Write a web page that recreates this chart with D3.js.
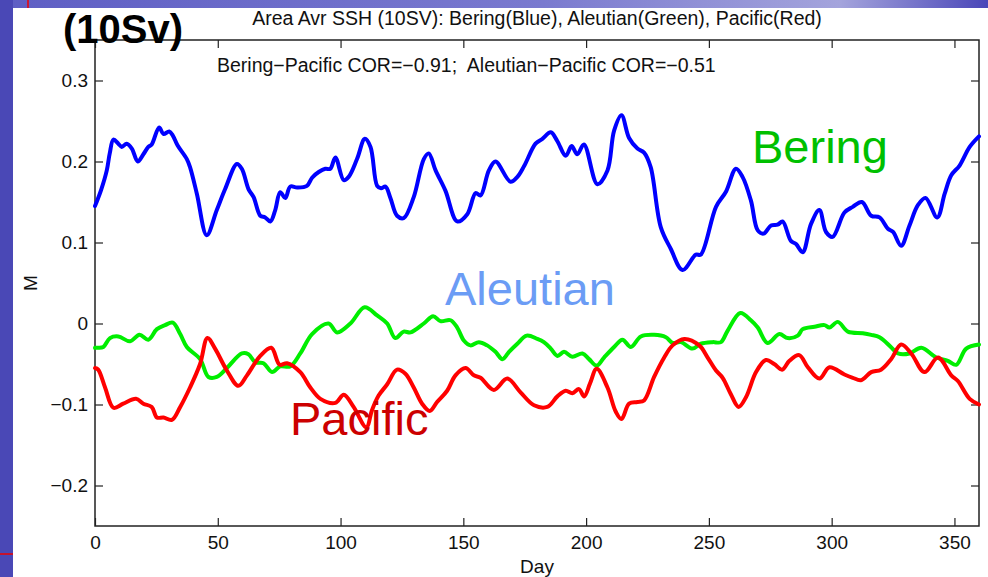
<!DOCTYPE html>
<html>
<head>
<meta charset="utf-8">
<title>Area Avr SSH (10SV)</title>
<style>
  body { margin: 0; }
  text { font-family: Arial, "Liberation Sans", sans-serif; }
</style>
</head>
<body>
<script src="https://d3js.org/d3.v7.min.js"></script>
<script>
// day, value (m)
var bering = [[0,0.145],[2.5,0.165],[4.8,0.189],[6,0.21],[7.5,0.227],[9.5,0.222],[10.9,0.218],[12.9,0.222],[15,0.216],[17.4,0.200],[19.7,0.209],[21.7,0.218],[23.1,0.221],[26.1,0.242],[27.9,0.234],[30.2,0.237],[31.7,0.232],[33.6,0.220],[37.4,0.203],[38.7,0.193],[41.5,0.160],[45.5,0.109],[49.6,0.140],[53,0.166],[57.8,0.197],[59.8,0.191],[62.5,0.166],[64.6,0.156],[67.3,0.133],[69.3,0.131],[71.4,0.126],[73.4,0.140],[75.4,0.162],[77.5,0.155],[79.5,0.169],[82.3,0.168],[86.3,0.170],[88.4,0.180],[91.1,0.187],[93.8,0.191],[95.8,0.191],[97.9,0.205],[101.3,0.177],[103.3,0.181],[106.7,0.203],[109.9,0.228],[112.2,0.218],[114.9,0.170],[116.5,0.167],[118.3,0.169],[120.3,0.155],[123,0.133],[125.7,0.130],[129.8,0.156],[133.9,0.203],[135.9,0.210],[138.7,0.189],[142.7,0.164],[147.5,0.126],[151.6,0.135],[155,0.161],[157,0.158],[160.4,0.189],[163.1,0.200],[169.2,0.175],[172,0.181],[174.7,0.194],[179.4,0.222],[182.2,0.228],[185.6,0.236],[188.3,0.225],[191.7,0.207],[194.1,0.219],[196.4,0.209],[199.1,0.221],[204.6,0.172],[208.7,0.189],[211.4,0.238],[214.4,0.257],[217.5,0.229],[220.9,0.216],[223.6,0.211],[226.3,0.193],[230.4,0.119],[234.5,0.092],[239.3,0.066],[244.7,0.085],[246.7,0.085],[252.9,0.144],[257,0.163],[261,0.191],[263.7,0.181],[267.1,0.152],[269.9,0.115],[272.3,0.111],[275.3,0.121],[278,0.122],[280,0.126],[283.4,0.102],[285.5,0.098],[288.2,0.088],[291.6,0.123],[295,0.140],[297.7,0.113],[300.4,0.107],[305.2,0.137],[308.6,0.144],[312.3,0.150],[316.1,0.133],[319.5,0.131],[322.9,0.117],[325,0.113],[328.3,0.096],[331.7,0.121],[335.1,0.146],[338.2,0.155],[343,0.131],[346,0.160],[348.7,0.183],[352.1,0.195],[356.2,0.218],[360,0.231]];

var aleutian = [[0,-0.030],[1.3,-0.030],[3.4,-0.029],[6.1,-0.018],[9.5,-0.016],[14.3,-0.022],[18.1,-0.014],[21.7,-0.020],[25.2,-0.007],[28.5,-0.002],[31.7,0.001],[34.7,-0.013],[37.4,-0.029],[42.8,-0.044],[46.2,-0.066],[49.6,-0.066],[53.7,-0.055],[59.8,-0.037],[62.5,-0.038],[65.3,-0.048],[68.6,-0.049],[72.1,-0.060],[75.4,-0.053],[79.5,-0.053],[83.6,-0.037],[88.4,-0.013],[95.1,0.000],[98.6,-0.011],[104,0.000],[109.8,0.020],[114.9,0.010],[119,0.000],[122.3,-0.018],[125.7,-0.010],[128.5,-0.011],[133.9,0.000],[137.7,0.009],[140.7,0.003],[144.8,0.004],[147.5,-0.005],[150.2,-0.021],[152.9,-0.027],[156.3,-0.023],[159.7,-0.027],[163.1,-0.035],[165.9,-0.044],[168.6,-0.035],[172,-0.025],[175.8,-0.015],[180.1,-0.019],[182.8,-0.023],[185.6,-0.031],[188.3,-0.040],[191,-0.035],[194.4,-0.041],[198.5,-0.037],[201.2,-0.044],[204.3,-0.052],[207.3,-0.042],[211.4,-0.029],[214.8,-0.020],[218.2,-0.029],[222.3,-0.016],[227.7,-0.014],[232.5,-0.017],[235.2,-0.024],[238.6,-0.023],[243.3,-0.031],[246.7,-0.025],[251.5,-0.023],[254.9,-0.023],[257.6,-0.009],[262.8,0.013],[267.1,0.004],[269.9,-0.005],[273.9,-0.024],[278.7,-0.013],[282.1,-0.018],[286.2,-0.015],[288.2,-0.007],[293,-0.004],[297.1,-0.002],[299.1,-0.005],[302.5,0.002],[306.6,-0.010],[312.7,-0.012],[316.1,-0.014],[319.5,-0.017],[324.1,-0.029],[327,-0.037],[331.7,-0.037],[336.5,-0.030],[342.6,-0.042],[347.3,-0.046],[350.7,-0.051],[354.8,-0.031],[360,-0.026]];

var pacific = [[0,-0.055],[1.3,-0.057],[4.1,-0.079],[7.5,-0.104],[11.5,-0.099],[16.7,-0.093],[19.7,-0.099],[23.1,-0.103],[25.2,-0.116],[27.9,-0.116],[31.3,-0.119],[34.7,-0.103],[38.7,-0.079],[42.8,-0.050],[45.8,-0.018],[48.9,-0.031],[53.7,-0.058],[58.4,-0.077],[61.9,-0.064],[67.3,-0.040],[71.8,-0.030],[75.2,-0.051],[78.2,-0.049],[83.6,-0.060],[87.7,-0.079],[91.8,-0.093],[97.9,-0.098],[101.3,-0.088],[105.3,-0.103],[110.5,-0.128],[112.8,-0.107],[115.5,-0.089],[119,-0.075],[123,-0.057],[126.4,-0.062],[129.8,-0.079],[133.2,-0.099],[136.3,-0.108],[139.3,-0.097],[143.4,-0.083],[146.8,-0.064],[150.9,-0.055],[154.3,-0.064],[157,-0.067],[162.4,-0.082],[167.9,-0.068],[173.3,-0.085],[178.8,-0.101],[184.2,-0.103],[188.3,-0.090],[191.7,-0.083],[194.4,-0.086],[197.1,-0.081],[199.2,-0.090],[201.6,-0.074],[204.3,-0.056],[208.7,-0.079],[212.1,-0.109],[214.4,-0.118],[217.5,-0.099],[220.9,-0.097],[223.6,-0.095],[227.7,-0.066],[231.8,-0.042],[235.2,-0.027],[240,-0.019],[246.1,-0.027],[249.5,-0.042],[252.9,-0.058],[255.6,-0.067],[258.9,-0.087],[262.1,-0.103],[265.1,-0.091],[269.2,-0.060],[273.2,-0.045],[276.6,-0.050],[279.8,-0.057],[282.8,-0.046],[286.8,-0.039],[290.3,-0.054],[295,-0.068],[299.1,-0.054],[305.2,-0.063],[308.6,-0.067],[311.9,-0.070],[316.1,-0.060],[320.1,-0.057],[324.2,-0.044],[328.3,-0.026],[332.4,-0.037],[337.8,-0.060],[343.3,-0.042],[348.7,-0.064],[351.4,-0.071],[356.2,-0.093],[360,-0.100]];

var xTicks = [0, 50, 100, 150, 200, 250, 300, 350];
var yTicks = [-0.2, -0.1, 0, 0.1, 0.2, 0.3];
var xDomain = [0, 360];
var yDomain = [-0.25, 0.35];

var size = {width: 988, height: 577};
var box = {left: 95, top: 40, right: 979, bottom: 526};

var svg = d3.select("body").append("svg")
    .attr("width", size.width)
    .attr("height", size.height);

// slide background
var defs = svg.append("defs");
var grad = defs.append("linearGradient").attr("id", "band");
grad.append("stop").attr("offset", "0%").attr("stop-color", "#5e5ec4");
grad.append("stop").attr("offset", "55%").attr("stop-color", "#7a7acf");
grad.append("stop").attr("offset", "85%").attr("stop-color", "#a4a4dc");
grad.append("stop").attr("offset", "100%").attr("stop-color", "#4a46b8");

svg.append("rect").attr("width", size.width).attr("height", size.height).attr("fill", "url(#band)");
svg.append("rect").attr("width", 13).attr("height", size.height).attr("fill", "#4a48b6");
svg.append("rect").attr("x", 13).attr("y", 8).attr("width", size.width - 13).attr("height", size.height - 8).attr("fill", "#fff");
svg.append("line").attr("x1", 28).attr("x2", 28).attr("y1", 0).attr("y2", 8).attr("stroke", "#e00").attr("stroke-width", 1.5);
svg.append("line").attr("x1", 0).attr("x2", 13).attr("y1", 554).attr("y2", 554).attr("stroke", "#e00").attr("stroke-width", 1.5);

var x = d3.scaleLinear().domain(xDomain).range([box.left, box.right]);
var y = d3.scaleLinear().domain(yDomain).range([box.bottom, box.top]);

var line = d3.line()
    .x(function(d){ return x(d[0]); })
    .y(function(d){ return y(d[1]); })
    .curve(d3.curveCatmullRom);

// axes, MATLAB style ticks pointing inward on all four sides
function styleAxis(g) {
    g.select(".domain").remove();
    g.selectAll(".tick line").attr("stroke", "#222").attr("stroke-width", 1.2);
    g.selectAll(".tick text").attr("fill", "#111").style("font-size", "19px");
}

svg.append("g")
    .attr("transform", "translate(0," + box.bottom + ")")
    .call(d3.axisBottom(x).tickValues(xTicks).tickSizeInner(-8).tickSizeOuter(0).tickPadding(10))
    .call(styleAxis);
svg.append("g")
    .attr("transform", "translate(0," + box.top + ")")
    .call(d3.axisTop(x).tickValues(xTicks).tickSizeInner(-8).tickSizeOuter(0).tickFormat(""))
    .call(styleAxis);
svg.append("g")
    .attr("transform", "translate(" + box.left + ",0)")
    .call(d3.axisLeft(y).tickValues(yTicks).tickSizeInner(-8).tickSizeOuter(0).tickPadding(7)
        .tickFormat(function(d){ return d === 0 ? "0" : d3.format(".1f")(d).replace("-", "\u2212"); }))
    .call(styleAxis);
svg.append("g")
    .attr("transform", "translate(" + box.right + ",0)")
    .call(d3.axisRight(y).tickValues(yTicks).tickSizeInner(-8).tickSizeOuter(0).tickFormat(""))
    .call(styleAxis);

svg.append("rect")
    .attr("x", box.left).attr("y", box.top)
    .attr("width", box.right - box.left).attr("height", box.bottom - box.top)
    .attr("fill", "none").attr("stroke", "#222").attr("stroke-width", 1.5);

var series = [
    {data: bering, color: "#0000ff"},
    {data: aleutian, color: "#00ee00"},
    {data: pacific, color: "#ff0000"}
];
svg.append("g").selectAll("path")
    .data(series)
    .enter().append("path")
    .attr("d", function(s){ return line(s.data); })
    .attr("fill", "none")
    .attr("stroke", function(s){ return s.color; })
    .attr("stroke-width", 4)
    .attr("stroke-linejoin", "round")
    .attr("stroke-linecap", "round");

// texts
svg.append("text").attr("x", 537).attr("y", 25).attr("text-anchor", "middle")
    .style("font-size", "19.5px").attr("fill", "#111")
    .text("Area Avr SSH (10SV): Bering(Blue), Aleutian(Green), Pacific(Red)");
svg.append("text").attr("x", 217).attr("y", 72)
    .style("font-size", "19.5px").style("white-space", "pre").attr("fill", "#111")
    .text("Bering\u2212Pacific COR=\u22120.91;  Aleutian\u2212Pacific COR=\u22120.51");
svg.append("text").attr("x", 63).attr("y", 43)
    .style("font-size", "40px").style("font-weight", "bold").attr("fill", "#000")
    .text("(10Sv)");
svg.append("text").attr("x", 537).attr("y", 573).attr("text-anchor", "middle")
    .style("font-size", "19px").attr("fill", "#111").text("Day");
svg.append("text").attr("transform", "translate(37,283) rotate(-90)").attr("text-anchor", "middle")
    .style("font-size", "19px").attr("fill", "#111").text("M");

svg.append("text").attr("x", 752).attr("y", 163)
    .style("font-size", "47px").attr("fill", "#00c000").text("Bering");
svg.append("text").attr("x", 445).attr("y", 305)
    .style("font-size", "47px").attr("fill", "#6b9cf5").text("Aleutian");
svg.append("text").attr("x", 290).attr("y", 435)
    .style("font-size", "47px").attr("fill", "#cc0000").text("Pacific");
</script>
</body>
</html>
